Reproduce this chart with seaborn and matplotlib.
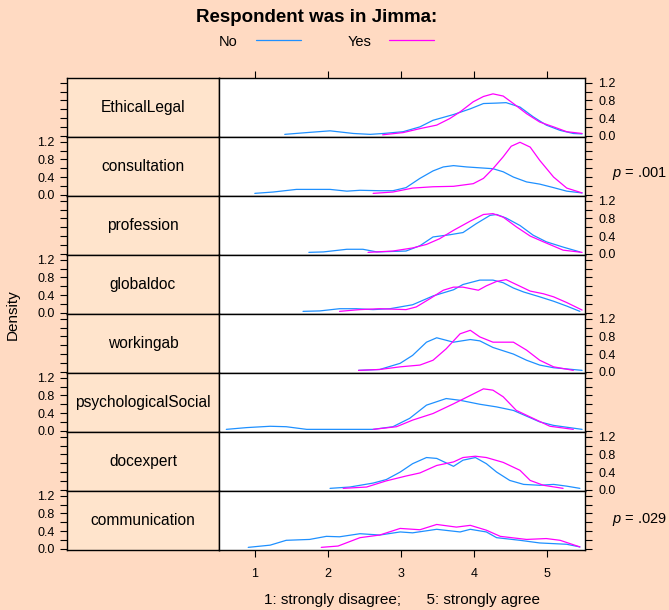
import pandas as pd
import matplotlib.pyplot as plt
import seaborn as sns
from matplotlib.lines import Line2D

# -------------------------
# Density curves (x = score, y = density)
# -------------------------
panels = ["EthicalLegal", "consultation", "profession", "globaldoc",
          "workingab", "psychologicalSocial", "docexpert", "communication"]

ethical_no = ([1.41, 1.71, 2.03, 2.35, 2.58, 2.76, 3.03, 3.26, 3.44, 3.72, 3.95, 4.13, 4.31, 4.44, 4.63, 4.81, 4.99, 5.18, 5.36, 5.48],
              [0.03, 0.07, 0.11, 0.05, 0.03, 0.05, 0.09, 0.20, 0.35, 0.48, 0.61, 0.73, 0.74, 0.75, 0.65, 0.43, 0.24, 0.12, 0.05, 0.04])
ethical_yes = ([2.75, 3.03, 3.26, 3.49, 3.67, 3.81, 3.99, 4.13, 4.26, 4.40, 4.54, 4.72, 4.90, 5.09, 5.27, 5.48],
               [0.02, 0.07, 0.16, 0.24, 0.39, 0.54, 0.77, 0.89, 0.95, 0.90, 0.73, 0.50, 0.31, 0.20, 0.09, 0.05])

consult_no = ([1.00, 1.25, 1.57, 2.03, 2.26, 2.44, 2.71, 2.89, 3.07, 3.26, 3.44, 3.58, 3.72, 3.90, 4.08, 4.26, 4.40, 4.54, 4.72, 4.90, 5.09, 5.27, 5.48],
              [0.03, 0.06, 0.12, 0.12, 0.08, 0.10, 0.09, 0.09, 0.16, 0.37, 0.54, 0.63, 0.66, 0.63, 0.61, 0.59, 0.52, 0.40, 0.29, 0.24, 0.16, 0.08, 0.04])
consult_yes = ([2.62, 2.89, 3.16, 3.44, 3.72, 3.99, 4.13, 4.26, 4.40, 4.51, 4.63, 4.77, 4.90, 5.09, 5.27, 5.48],
               [0.03, 0.06, 0.15, 0.18, 0.19, 0.25, 0.37, 0.59, 0.86, 1.10, 1.19, 1.08, 0.78, 0.40, 0.15, 0.04])

prof_no = ([1.74, 1.94, 2.26, 2.48, 2.67, 3.07, 3.26, 3.44, 3.67, 3.85, 4.03, 4.22, 4.31, 4.44, 4.63, 4.81, 4.99, 5.22, 5.45],
           [0.03, 0.04, 0.10, 0.10, 0.04, 0.06, 0.18, 0.38, 0.43, 0.48, 0.68, 0.87, 0.89, 0.81, 0.64, 0.42, 0.27, 0.15, 0.04])
prof_yes = ([2.55, 2.89, 3.16, 3.35, 3.53, 3.72, 3.95, 4.13, 4.26, 4.40, 4.58, 4.77, 4.95, 5.22, 5.48],
            [0.03, 0.06, 0.13, 0.21, 0.34, 0.53, 0.74, 0.89, 0.91, 0.83, 0.61, 0.40, 0.27, 0.08, 0.03])

global_no = ([1.66, 1.89, 2.16, 2.39, 2.62, 2.85, 3.16, 3.44, 3.72, 3.85, 4.08, 4.26, 4.40, 4.54, 4.68, 4.90, 5.09, 5.27, 5.45],
             [0.03, 0.04, 0.09, 0.09, 0.07, 0.09, 0.18, 0.38, 0.52, 0.64, 0.74, 0.74, 0.68, 0.56, 0.47, 0.36, 0.26, 0.15, 0.03])
global_yes = ([2.16, 2.44, 2.71, 3.07, 3.21, 3.40, 3.58, 3.72, 3.85, 4.06, 4.17, 4.31, 4.44, 4.58, 4.77, 4.95, 5.09, 5.27, 5.48],
              [0.03, 0.07, 0.09, 0.07, 0.13, 0.32, 0.51, 0.58, 0.58, 0.51, 0.61, 0.71, 0.75, 0.64, 0.49, 0.43, 0.36, 0.23, 0.06])

working_no = ([2.42, 2.71, 2.99, 3.16, 3.35, 3.49, 3.72, 3.95, 4.08, 4.26, 4.54, 4.72, 4.90, 5.09, 5.48],
              [0.03, 0.05, 0.19, 0.37, 0.67, 0.77, 0.67, 0.73, 0.70, 0.55, 0.40, 0.26, 0.15, 0.09, 0.03])
working_yes = ([2.42, 2.71, 2.99, 3.26, 3.44, 3.62, 3.81, 3.95, 4.08, 4.26, 4.54, 4.72, 4.90, 5.09, 5.36],
               [0.03, 0.05, 0.11, 0.15, 0.26, 0.52, 0.86, 0.94, 0.79, 0.67, 0.67, 0.49, 0.26, 0.11, 0.03])

psych_no = ([0.61, 0.89, 1.21, 1.43, 1.71, 2.62, 2.89, 3.12, 3.35, 3.62, 3.81, 4.08, 4.31, 4.54, 4.72, 4.90, 5.09, 5.48],
            [0.03, 0.07, 0.10, 0.09, 0.03, 0.03, 0.09, 0.28, 0.58, 0.73, 0.69, 0.60, 0.54, 0.46, 0.33, 0.20, 0.12, 0.03])
psych_yes = ([2.62, 2.94, 3.16, 3.44, 3.72, 3.95, 4.13, 4.26, 4.40, 4.58, 4.81, 5.04, 5.36],
             [0.03, 0.09, 0.24, 0.39, 0.61, 0.80, 0.95, 0.92, 0.77, 0.46, 0.28, 0.10, 0.03])

docexp_no = ([2.03, 2.30, 2.62, 2.80, 2.99, 3.16, 3.35, 3.49, 3.72, 3.85, 4.02, 4.17, 4.31, 4.49, 4.68, 4.90, 5.09, 5.27, 5.45],
             [0.03, 0.06, 0.15, 0.23, 0.40, 0.59, 0.73, 0.71, 0.53, 0.67, 0.73, 0.59, 0.40, 0.21, 0.12, 0.10, 0.12, 0.08, 0.03])
docexp_yes = ([2.21, 2.53, 2.80, 3.07, 3.26, 3.49, 3.72, 3.85, 4.02, 4.17, 4.40, 4.63, 4.77, 4.95, 5.22],
              [0.03, 0.06, 0.20, 0.31, 0.38, 0.55, 0.63, 0.73, 0.76, 0.73, 0.62, 0.44, 0.21, 0.10, 0.03])

comm_no = ([0.91, 1.21, 1.43, 1.75, 1.98, 2.16, 2.44, 2.71, 2.99, 3.16, 3.49, 3.81, 3.95, 4.17, 4.31, 4.63, 4.90, 5.27, 5.45],
           [0.03, 0.08, 0.19, 0.21, 0.28, 0.27, 0.34, 0.31, 0.38, 0.36, 0.44, 0.38, 0.44, 0.38, 0.25, 0.19, 0.13, 0.10, 0.04])
comm_yes = ([1.91, 2.14, 2.44, 2.71, 2.99, 3.26, 3.49, 3.76, 3.95, 4.17, 4.36, 4.72, 4.99, 5.18, 5.45],
            [0.03, 0.06, 0.25, 0.31, 0.46, 0.43, 0.55, 0.49, 0.53, 0.42, 0.28, 0.21, 0.23, 0.19, 0.04])

curves_no = [ethical_no, consult_no, prof_no, global_no, working_no, psych_no, docexp_no, comm_no]
curves_yes = [ethical_yes, consult_yes, prof_yes, global_yes, working_yes, psych_yes, docexp_yes, comm_yes]

p_values = {"consultation": ".001", "communication": ".029"}
groups = ["No", "Yes"]
colors = {"No": "#1E90FF", "Yes": "#FF00FF"}

rows = []
for name, cno, cyes in zip(panels, curves_no, curves_yes):
    for grp, (xs, ys) in zip(groups, [cno, cyes]):
        for x, y in zip(xs, ys):
            rows.append({"panel": name, "group": grp, "x": x, "density": y})
df = pd.DataFrame(rows)

# -------------------------
# Figure
# -------------------------
sns.set_style("ticks")
plt.rcParams['font.family'] = ['Liberation Sans', 'DejaVu Sans']
plt.rcParams['mathtext.fontset'] = 'custom'
plt.rcParams['mathtext.it'] = 'Liberation Sans:italic'
plt.rcParams['mathtext.rm'] = 'Liberation Sans'
plt.rcParams['text.color'] = 'black'
plt.rcParams['xtick.color'] = 'black'
plt.rcParams['ytick.color'] = 'black'
plt.rcParams['xtick.labelcolor'] = 'black'
plt.rcParams['ytick.labelcolor'] = 'black'

W, H = 669, 610
BG = "#FFDAC2"
STRIP = "#FFE4CC"
fig = plt.figure(figsize=(W / 100, H / 100), dpi=100, facecolor=BG)

top, row_h = 78, 59
x_strip, x_panel, x_right = 67, 219, 585
ylim = (-0.03, 1.31)
xlim = (0.51, 5.52)
yticks = [0.0, 0.2, 0.4, 0.6, 0.8, 1.0, 1.2]
ylabels = ["0.0", "", "0.4", "", "0.8", "", "1.2"]

for i, name in enumerate(panels):
    y0 = 1 - (top + row_h * (i + 1)) / H
    h = row_h / H
    ax_s = fig.add_axes([x_strip / W, y0, (x_panel - x_strip) / W, h])
    ax = fig.add_axes([x_panel / W, y0, (x_right - x_panel) / W, h])

    # strip with variable name and left axis
    ax_s.set_facecolor(STRIP)
    ax_s.set_xlim(0, 1)
    ax_s.set_ylim(*ylim)
    ax_s.text(0.5, 0.5, name, transform=ax_s.transAxes, ha="center", va="center",
              fontsize=11.2, color="black")
    ax_s.set_xticks([])
    ax_s.set_yticks(yticks)
    ax_s.set_yticklabels(ylabels if i % 2 == 1 else [""] * len(yticks))
    ax_s.tick_params(axis="y", direction="out", length=5, width=0.8, pad=4, labelsize=9, colors="black")

    # density panel
    sub = df[df["panel"] == name]
    sns.lineplot(data=sub, x="x", y="density", hue="group", palette=colors,
                 estimator=None, sort=False, linewidth=0.9, legend=False, ax=ax)
    ax.set_facecolor("white")
    ax.set_xlim(*xlim)
    ax.set_ylim(*ylim)
    ax.set_xlabel("")
    ax.set_ylabel("")
    ax.yaxis.tick_right()
    ax.set_yticks(yticks)
    ax.set_yticklabels(ylabels if i % 2 == 0 else [""] * len(yticks))
    ax.tick_params(axis="y", direction="out", length=5, width=0.8, pad=4.5, labelsize=9, colors="black")
    ax.set_xticks([1, 2, 3, 4, 5])
    ax.tick_params(axis="x", direction="out", length=5, width=0.8, pad=8, labelsize=9, colors="black",
                   bottom=(i == len(panels) - 1), top=(i == 0),
                   labelbottom=(i == len(panels) - 1), labeltop=False)

    for a in (ax, ax_s):
        for sp in a.spines.values():
            sp.set_visible(True)
            sp.set_color("black")
            sp.set_linewidth(1.0)

    if name in p_values:
        yc = 1 - (top + row_h * i + (36 if i == 1 else 29)) / H
        fig.text(667 / W, yc, r"$p$ = " + p_values[name], ha="right", va="center", fontsize=10.5)

# title and key
fig.text(317 / W, 1 - 18 / H, "Respondent was in Jimma:", ha="center", va="center",
         fontsize=13.5, fontweight="bold")
fig.text(237 / W, 1 - 42 / H, "No", ha="right", va="center", fontsize=10.5)
fig.text(371 / W, 1 - 42 / H, "Yes", ha="right", va="center", fontsize=10.5)
fig.add_artist(Line2D([256 / W, 301 / W], [1 - 40 / H] * 2, color=colors["No"], lw=0.9))
fig.add_artist(Line2D([389 / W, 434 / W], [1 - 40 / H] * 2, color=colors["Yes"], lw=0.9))

fig.text(13 / W, 1 - 315 / H, "Density", rotation=90, ha="center", va="center", fontsize=11)
fig.text(402 / W, 1 - 600 / H, "1: strongly disagree;      5: strongly agree",
         ha="center", va="center", fontsize=11)

plt.savefig("out.png", dpi=100, facecolor=BG)
